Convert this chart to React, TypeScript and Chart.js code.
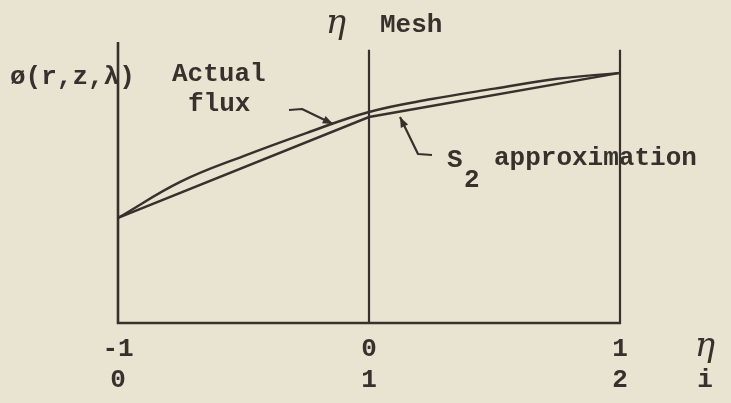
import { useEffect, useRef } from 'react';
import { Chart, registerables } from 'chart.js';

Chart.register(...registerables);

// Normalised coordinate eta across two mesh cells and the flux along it
const eta = [-1, -0.75, -0.5, -0.25, 0, 0.25, 0.5, 0.75, 1];
const actualFlux = [3.74, 5.03, 5.94, 6.76, 7.51, 7.97, 8.34, 8.69, 8.9];

// S2 approximation: straight segments between the mesh points
const meshEta = [-1, 0, 1];
const s2Flux = [3.74, 7.33, 8.9];

// Tick rows under the axis: eta and the mesh index i
const etaTickLabels = ['-1', '0', '1'];
const indexTickLabels = ['0', '1', '2'];

const INK = '#36312c';
const PAPER = '#e9e4d1';
const TYPE = 'bold 26px "Liberation Mono", "DejaVu Sans Mono", monospace';
const HAND = 'italic 34px "DejaVu Serif", "Liberation Serif", serif';

function arrow(ctx: CanvasRenderingContext2D, pts: [number, number][]) {
  ctx.beginPath();
  ctx.moveTo(pts[0][0], pts[0][1]);
  for (let i = 1; i < pts.length; i++) ctx.lineTo(pts[i][0], pts[i][1]);
  ctx.stroke();
  const [x1, y1] = pts[pts.length - 2];
  const [x2, y2] = pts[pts.length - 1];
  const a = Math.atan2(y2 - y1, x2 - x1);
  const len = 11;
  const w = 0.38;
  ctx.beginPath();
  ctx.moveTo(x2, y2);
  ctx.lineTo(x2 - len * Math.cos(a - w), y2 - len * Math.sin(a - w));
  ctx.lineTo(x2 - len * Math.cos(a + w), y2 - len * Math.sin(a + w));
  ctx.closePath();
  ctx.fill();
}

const sketchPlugin = {
  id: 'sketch',
  beforeDatasetsDraw(chart: any) {
    const ctx: CanvasRenderingContext2D = chart.ctx;
    const xs = chart.scales.x;
    const ys = chart.scales.y;
    const y0 = ys.getPixelForValue(0);
    ctx.save();
    ctx.strokeStyle = INK;
    ctx.lineCap = 'butt';
    // flux axis and the two mesh lines
    meshEta.forEach((v, i) => {
      const x = xs.getPixelForValue(v);
      ctx.lineWidth = i === 0 ? 2.6 : 2.2;
      ctx.beginPath();
      ctx.moveTo(x, ys.getPixelForValue(i === 0 ? 10 : 9.72));
      ctx.lineTo(x, y0 + 1);
      ctx.stroke();
    });
    // eta axis
    ctx.lineWidth = 2.6;
    ctx.beginPath();
    ctx.moveTo(xs.getPixelForValue(-1) - 1, y0);
    ctx.lineTo(xs.getPixelForValue(1) + 1, y0);
    ctx.stroke();
    ctx.restore();
  },
  afterDatasetsDraw(chart: any) {
    const ctx: CanvasRenderingContext2D = chart.ctx;
    const xs = chart.scales.x;
    const ys = chart.scales.y;
    ctx.save();
    ctx.fillStyle = INK;
    ctx.strokeStyle = INK;
    ctx.textBaseline = 'middle';

    // typed labels
    ctx.font = TYPE;
    ctx.textAlign = 'left';
    ctx.fillText('ø(r,z,λ)', 10, 77);
    ctx.fillText('Actual', 172, 74);
    ctx.fillText('flux', 188, 104);
    ctx.fillText('Mesh', 380, 25);
    ctx.fillText('S', 447, 160);
    ctx.fillText('2', 464, 180);
    ctx.fillText('approximation', 494, 158);

    // tick rows
    ctx.textAlign = 'center';
    const y0 = ys.getPixelForValue(0);
    meshEta.forEach((v, i) => {
      const x = xs.getPixelForValue(v);
      ctx.fillText(etaTickLabels[i], x, y0 + 26);
      ctx.fillText(indexTickLabels[i], x, y0 + 57);
    });
    ctx.fillText('i', 705, y0 + 57);

    // hand-written eta
    ctx.font = HAND;
    ctx.fillText('η', 336, 24);
    ctx.fillText('η', 705, y0 + 24);

    // pointer arrows
    ctx.lineWidth = 2.2;
    ctx.lineJoin = 'round';
    arrow(ctx, [[289, 110], [302, 109], [333, 124]]);
    arrow(ctx, [[432, 155], [418, 154], [400, 117]]);
    ctx.restore();
  },
};

export default function App() {
  const ref = useRef<HTMLCanvasElement>(null);

  useEffect(() => {
    if (!ref.current) return;
    const chart = new Chart(ref.current, {
      type: 'line',
      data: {
        datasets: [
          {
            label: 'Actual flux',
            data: eta.map((x, i) => ({ x, y: actualFlux[i] })),
            borderColor: INK,
            borderWidth: 2.4,
            pointRadius: 0,
            tension: 0.4,
            clip: false,
          },
          {
            label: 'S2 approximation',
            data: meshEta.map((x, i) => ({ x, y: s2Flux[i] })),
            borderColor: INK,
            borderWidth: 2.4,
            pointRadius: 0,
            tension: 0,
            clip: false,
          },
        ],
      },
      options: {
        responsive: false,
        animation: false,
        devicePixelRatio: 1,
        layout: { padding: { left: 118, right: 111, top: 42, bottom: 80 } },
        plugins: { legend: { display: false }, tooltip: { enabled: false } },
        scales: {
          x: { type: 'linear', min: -1, max: 1, display: false },
          y: { type: 'linear', min: 0, max: 10, display: false },
        },
      },
      plugins: [sketchPlugin],
    });
    return () => chart.destroy();
  }, []);

  return (
    <div style={{ position: 'fixed', left: 0, top: 0, width: 731, height: 403, background: PAPER }}>
      <canvas ref={ref} width={731} height={403} style={{ display: 'block' }} />
    </div>
  );
}
